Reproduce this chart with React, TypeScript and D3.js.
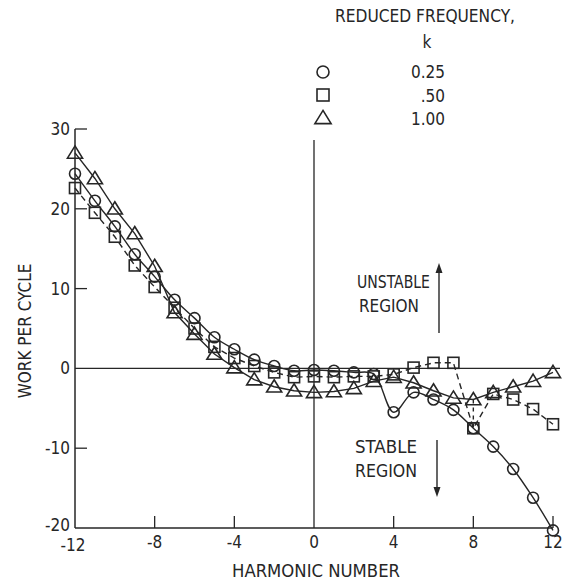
import React from "react";
import * as d3 from "d3";

const harmonics = d3.range(-12, 13);
const workK025 = [24.4, 21.0, 17.8, 14.3, 11.5, 8.6, 6.3, 3.9, 2.4, 1.1, 0.3, -0.3, -0.2, -0.3, -0.5, -0.7, -5.5, -3.0, -3.9, -5.2, -7.5, -9.8, -12.6, -16.2, -20.3];
const workK050 = [22.6, 19.5, 16.5, 12.9, 10.2, 7.6, 5.0, 2.7, 1.3, 0.3, -0.5, -1.1, -1.0, -1.1, -1.0, -1.0, -0.75, 0.1, 0.7, 0.7, -7.5, -3.2, -3.9, -5.1, -7.0];
const workK100 = [27.0, 23.8, 20.0, 16.9, 12.8, 7.0, 4.3, 1.8, 0.1, -1.4, -2.3, -2.8, -3.0, -2.9, -2.5, -1.6, -1.1, -1.8, -2.8, -3.7, -3.9, -3.0, -2.3, -1.6, -0.5];
const legendLabels = ["0.25", ".50", "1.00"];
const xTicks = [-12, -8, -4, 0, 4, 8, 12];
const yTicks = [30, 20, 10, 0, -10, -20];

const INK = "#262626";
const FONT = "'Liberation Sans Narrow', 'DejaVu Sans Condensed', 'Liberation Sans', Arial, sans-serif";

function Marker({ kind, x, y, s }: { kind: string; x: number; y: number; s: number }) {
  if (kind === "circle") return <circle cx={x} cy={y} r={s / 2} fill="none" stroke={INK} strokeWidth={1.6} />;
  if (kind === "square") return <rect x={x - s / 2} y={y - s / 2} width={s} height={s} fill="none" stroke={INK} strokeWidth={1.6} />;
  const h = s * 0.9;
  return <path d={`M${x},${y - h * 0.6}L${x + s * 0.58},${y + h * 0.45}L${x - s * 0.58},${y + h * 0.45}Z`} fill="none" stroke={INK} strokeWidth={1.6} strokeLinejoin="miter" />;
}

export default function App() {
  const x = d3.scaleLinear().domain([-12, 12]).range([75, 553]);
  const y = d3.scaleLinear().domain([-20, 30]).range([528, 129]);

  const series = [
    { kind: "circle", values: workK025, dash: undefined as string | undefined, curve: d3.curveCatmullRom.alpha(0.5) },
    { kind: "square", values: workK050, dash: "6,4", curve: d3.curveLinear },
    { kind: "triangle", values: workK100, dash: undefined as string | undefined, curve: d3.curveLinear },
  ];

  const i8 = harmonics.indexOf(8);

  return (
    <svg width={562} height={585} style={{ position: "absolute", left: 0, top: 0, background: "#fff" }} fontFamily={FONT}>
      <rect width={562} height={585} fill="#fff" />
      {/* axes */}
      <line x1={x(-12)} x2={x(-12)} y1={y(30)} y2={y(-20)} stroke={INK} strokeWidth={1.5} />
      <line x1={x(-12)} x2={x(12)} y1={y(-20)} y2={y(-20)} stroke={INK} strokeWidth={1.5} />
      <line x1={x(-12)} x2={560} y1={y(0)} y2={y(0)} stroke={INK} strokeWidth={1.3} />
      <line x1={x(0)} x2={x(0)} y1={140} y2={y(-20)} stroke={INK} strokeWidth={1.3} />
      {yTicks.filter((t) => t !== 0 && t !== -20).map((t) => (
        <line key={t} x1={x(-12)} x2={x(-12) + 12} y1={y(t)} y2={y(t)} stroke={INK} strokeWidth={1.3} />
      ))}
      {xTicks.filter((t) => t !== -12 && t !== 0).map((t) => (
        <line key={t} x1={x(t)} x2={x(t)} y1={y(-20)} y2={y(-20) - 12} stroke={INK} strokeWidth={1.3} />
      ))}
      {yTicks.map((t) => (
        <text key={t} x={x(-12) - 5} y={y(t) + (t === -20 ? 3 : 6)} textAnchor="end" fontSize={17} fill={INK}>{t}</text>
      ))}
      {xTicks.map((t) => (
        <text key={t} x={x(t) + (t === -12 ? -2 : 0)} y={t === -12 ? 551 : 548} textAnchor="middle" fontSize={17} fill={INK}>{t}</text>
      ))}
      <text x={232} y={577} fontSize={17} fill={INK} textLength={168} lengthAdjust="spacingAndGlyphs">HARMONIC NUMBER</text>
      <text transform="translate(31,331) rotate(-90)" textAnchor="middle" fontSize={17} fill={INK}>WORK PER CYCLE</text>

      {/* series lines */}
      {series.map((s, si) => {
        const line = d3.line<number>().x((_, i) => x(harmonics[i])).y((v) => y(v)).curve(s.curve);
        return <path key={si} d={line(s.values) || ""} fill="none" stroke={INK} strokeWidth={1.4} strokeDasharray={s.dash} />;
      })}
      <line x1={x(8)} x2={x(8)} y1={y(workK100[i8])} y2={y(workK050[i8])} stroke={INK} strokeWidth={1.4} strokeDasharray="4,4" />
      {/* markers */}
      {series.map((s) =>
        s.values.map((v, i) => <Marker key={s.kind + i} kind={s.kind} x={x(harmonics[i])} y={y(v)} s={s.kind === "triangle" ? 13 : 11} />)
      )}

      {/* legend */}
      <text x={335} y={22} fontSize={17} fill={INK} textLength={180} lengthAdjust="spacingAndGlyphs">REDUCED FREQUENCY,</text>
      <text x={427} y={48} textAnchor="middle" fontSize={17} fill={INK}>k</text>
      {series.map((s, i) => (
        <g key={s.kind}>
          <Marker kind={s.kind} x={323} y={72 + i * 23} s={s.kind === "triangle" ? 14 : 12} />
          <text x={445} y={78 + i * 23.5} textAnchor="end" fontSize={17} fill={INK}>{legendLabels[i]}</text>
        </g>
      ))}

      {/* region annotations */}
      <text x={357} y={288} fontSize={17} fill={INK} textLength={73} lengthAdjust="spacingAndGlyphs">UNSTABLE</text>
      <text x={359} y={312} fontSize={17} fill={INK} textLength={60} lengthAdjust="spacingAndGlyphs">REGION</text>
      <line x1={439} x2={439} y1={333} y2={270} stroke={INK} strokeWidth={1.4} />
      <path d="M439,263L435.5,273L442.5,273Z" fill={INK} />
      <text x={355} y={453} fontSize={17} fill={INK} textLength={62} lengthAdjust="spacingAndGlyphs">STABLE</text>
      <text x={355} y={477} fontSize={17} fill={INK} textLength={62} lengthAdjust="spacingAndGlyphs">REGION</text>
      <line x1={437} x2={437} y1={440} y2={490} stroke={INK} strokeWidth={1.4} />
      <path d="M437,497L433.5,487L440.5,487Z" fill={INK} />
    </svg>
  );
}
